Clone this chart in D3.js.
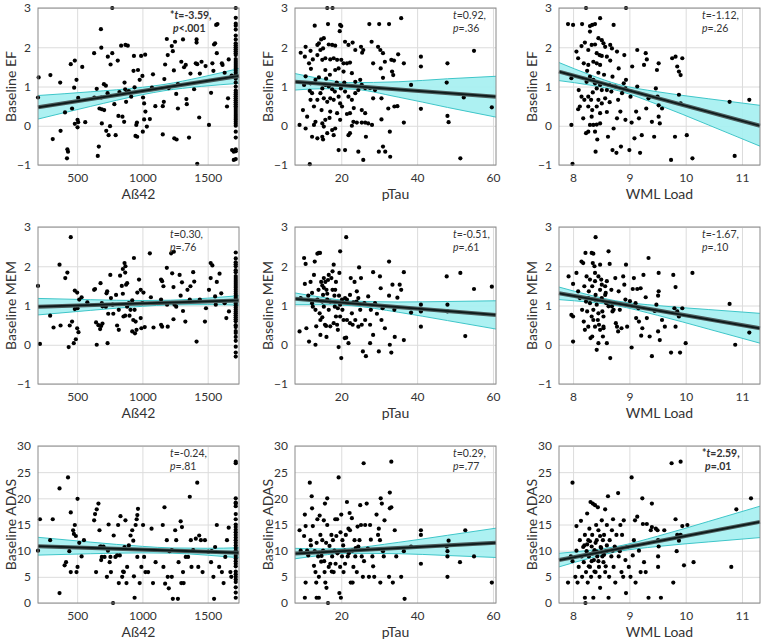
<!DOCTYPE html>
<html>
<head>
<meta charset="utf-8">
<script src="https://cdn.jsdelivr.net/npm/d3@7"></script>
<style>
body { margin: 0; background: #fff; }
text { font-family: Lato, "DejaVu Sans", sans-serif; fill: #333; }
</style>
</head>
<body>
<svg id="chart" width="766" height="641"></svg>
<script>
// ---- data ----
var xLabels = ["A\u00df42", "pTau", "WML Load"];
var yLabels = ["Baseline EF", "Baseline MEM", "Baseline ADAS"];
var xDomains = [[200, 1740], [7.8, 60.8], [7.75, 11.32]];
var yDomains = [[-1, 3], [-1, 3], [0, 30]];
var xTicks = [[500, 1000, 1500], [20, 40, 60], [8, 9, 10, 11]];
var yTicks = [[-1, 0, 1, 2, 3], [-1, 0, 1, 2, 3], [0, 5, 10, 15, 20, 25, 30]];

// AB42 values above the assay limit all sit at the cap
var ab42Cap = 1715;
var efStack = [3.0,2.75,2.6,2.55,2.45,2.3,2.2,2.1,2.05,2.0,1.95,1.9,1.85,1.8,1.7,1.65,1.6,1.55,1.5,1.45,1.4,1.35,1.3,1.2,1.1,1.0,0.9,0.85,0.8,0.75,0.7,0.65,0.6,0.55,0.5,0.45,0.4,0.35,0.3,0.25,0.2,0.15,0.1,0.05,0.0,-0.15,-0.3,-0.6,-0.65,-0.85];
var memStack = [2.35,2.2,2.1,2.05,2.0,1.9,1.85,1.75,1.7,1.65,1.6,1.55,1.5,1.45,1.4,1.35,1.3,1.25,1.2,1.15,1.1,1.05,1.0,0.95,0.9,0.85,0.8,0.75,0.7,0.65,0.6,0.5,0.45,0.35,0.3,0.2,0.1,-0.05,-0.2,-0.3];
var adasStack = [27,26.7,20,19.2,19,18.5,17,16,15,14.5,14,13.5,13,12.5,12,11.5,11,10.5,10,9.5,9,8.5,8,7.5,7,6,5.5,5,4.5,4,3,2,1];

var efAb42 = [[205,1.23],[200,0.72],[295,1.29],[313,-0.34],[370,1.1],[373,-0.13],[407,0.34],[425,-0.6],[430,-0.66],[422,-0.83],[451,1.57],[482,1.66],[461,0.44],[477,0.97],[495,1.17],[482,0.05],[503,0.15],[508,0.09],[508,0.71],[503,-0.04],[539,1.5],[562,0.09],[630,1.85],[650,0.94],[632,0.72],[658,-0.77],[666,-0.53],[682,2.46],[685,1.99],[671,0.44],[689,0.42],[685,0.72],[689,0.06],[705,1.06],[720,1.02],[707,0.4],[723,-0.13],[741,-0.24],[735,1.76],[769,1.85],[752,-0.01],[733,0.83],[769,3.0],[756,1.56],[785,0.55],[795,-0.24],[811,1.66],[816,0.25],[847,0.23],[824,0.86],[837,2.04],[870,2.06],[888,2.04],[863,1.1],[860,0.1],[868,0.93],[878,0.84],[896,0.88],[875,0.61],[914,0.74],[935,1.78],[932,1.4],[940,0.98],[953,0.02],[958,0.08],[947,-0.26],[960,-0.28],[990,1.78],[1021,1.81],[966,1.42],[979,1.17],[1000,1.27],[1005,0.72],[1013,0.57],[1023,0.36],[1013,0.16],[1034,-0.02],[1003,-0.15],[1057,0.17],[1073,0.97],[1081,1.31],[1099,0.5],[1156,-0.22],[1156,0.5],[1164,0.61],[1168,1.19],[1174,1.56],[1187,2.21],[1194,1.8],[1202,0.96],[1225,2.03],[1241,1.41],[1233,1.9],[1250,2.14],[1244,-0.32],[1262,-0.35],[1259,0.81],[1272,0.44],[1272,1.06],[1298,1.63],[1311,2.2],[1319,1.49],[1332,1.55],[1337,0.68],[1340,0.55],[1357,-0.3],[1368,1.33],[1396,0.93],[1409,1.59],[1415,2.2],[1415,2.12],[1420,1.57],[1435,0.21],[1440,1.33],[1453,1.63],[1484,1.52],[1510,0.02],[1526,0.84],[1536,1.59],[1544,1.4],[1549,2.07],[1557,2.1],[1565,2.57],[1575,2.59],[1570,1.85],[1609,1.59],[1614,1.55],[1630,1.35],[1648,0.49],[1656,0.7],[1661,1.69],[1684,1.28],[1687,-0.62],[1700,-0.66],[1700,-0.87],[1420,-0.97]];

var efPtau = [[16.3,3.0],[17.7,3.0],[13.0,2.55],[16.5,2.59],[19.7,2.57],[20,2.54],[19.6,2.41],[9.3,1.86],[10.6,2.01],[10.4,1.76],[11.5,1.59],[12.5,1.69],[11.9,1.91],[13.7,2.06],[14.1,2.1],[14.7,2.2],[15.4,2.23],[13.7,1.8],[14.5,1.93],[15.2,1.97],[16.7,2.07],[17.6,2.06],[18.4,2.04],[15.0,1.68],[15.8,1.72],[17.1,1.69],[18.0,1.72],[18.9,1.68],[20,1.68],[20.6,1.59],[21.5,1.59],[22.3,1.61],[21.0,2.14],[21.9,2.06],[23.0,2.12],[23.7,1.93],[25.2,2.01],[25.8,1.93],[25.5,1.86],[28.0,2.14],[29.7,2.01],[30.3,1.93],[31.0,1.85],[27.4,2.59],[30.0,2.59],[32.6,2.59],[35.8,2.74],[28.4,1.59],[30.4,1.46],[31.5,1.63],[33.2,1.68],[33.9,1.66],[33.4,1.38],[33.7,1.29],[31.0,1.22],[35.0,1.82],[36.5,1.59],[38.4,1.04],[41.0,1.76],[41.0,1.51],[48.0,1.59],[47.8,1.1],[55.0,1.91],[52.3,0.72],[59.7,0.47],[41.0,0.43],[48.0,0.25],[48.3,0.09],[51.4,-0.83],[36.5,0.08],[32.4,0.44],[34.0,0.49],[34.8,0.5],[32.8,-0.15],[31.0,-0.53],[31.6,-0.66],[29.9,-0.66],[32.9,-0.79],[30.6,0.16],[28.1,0.02],[26.5,-0.28],[25.8,-0.87],[24.5,-0.66],[21.0,-0.62],[19.3,-0.62],[11.7,-0.98],[9.0,0.02],[10.6,-0.07],[9.9,0.40],[11.0,0.23],[11.7,0.89],[12.3,-0.28],[13.7,-0.32],[12.8,0.02],[13.2,0.1],[15.0,0.06],[15.4,-0.02],[15.8,0.15],[15.2,-0.35],[15.0,-0.28],[16.3,-0.19],[18.0,-0.24],[17.6,-0.11],[17.1,0.36],[18.9,0.32],[18.4,-0.07],[19.7,0.15],[21.9,-0.24],[22.3,-0.19],[22.8,0.0],[23.2,0.1],[24.1,0.08],[25.4,0.08],[26.3,0.08],[27.1,0.06],[11.9,1.08],[13.2,1.17],[14.1,1.23],[10.2,1.04],[15.8,1.04],[16.7,1.0],[17.6,0.93],[18.3,0.87],[15.0,0.95],[14.5,0.83],[15.4,0.7],[16.3,0.61],[17.1,0.7],[18.0,0.66],[19.3,0.74],[19.7,0.57],[20.2,0.49],[21.0,0.87],[21.9,0.74],[22.8,0.66],[23.7,0.83],[24.5,0.91],[25.4,1.04],[26.3,0.96],[27.6,0.96],[28.9,0.91],[23.7,1.12],[25.0,1.17],[22.8,1.34],[18.4,1.42],[19.3,1.46],[20.6,1.38],[15.8,1.42],[25.4,0.4],[26.3,0.32],[28.4,0.7],[30.6,0.7],[12.8,0.49],[13.7,0.66],[11.9,0.66],[12.3,0.83],[22.3,0.32],[10.6,1.26],[16.0,1.2],[17.0,1.3],[18.8,1.1],[19.9,0.95],[14.8,0.4],[16.9,0.2],[20.8,1.1],[21.5,0.3],[23.3,0.45],[12.0,1.45]];

var efWml = [[7.91,2.59],[8.0,2.57],[8.23,3.0],[8.94,3.0],[8.16,2.59],[8.30,2.54],[8.34,2.57],[8.39,2.59],[8.30,2.4],[8.48,2.74],[8.72,2.57],[8.06,1.89],[8.15,2.03],[8.21,2.12],[8.19,1.59],[8.09,1.72],[8.27,1.93],[8.33,2.06],[8.39,2.07],[8.45,2.23],[8.51,2.18],[8.54,2.1],[8.42,1.85],[8.47,1.8],[8.51,1.78],[8.57,2.01],[8.66,2.06],[8.69,1.97],[8.60,1.76],[8.66,1.66],[8.36,1.63],[8.42,1.59],[8.48,1.55],[8.27,1.55],[8.78,1.89],[8.91,1.8],[8.81,1.46],[9.14,1.93],[9.29,1.85],[9.31,1.69],[9.05,1.51],[9.26,1.55],[9.52,1.59],[9.49,1.42],[9.76,1.72],[9.82,1.76],[9.94,1.72],[9.88,1.38],[9.91,1.29],[9.85,1.51],[7.97,1.21],[8.10,0.91],[8.15,0.74],[8.2,0.66],[8.12,0.49],[8.09,0.42],[8.24,1.12],[8.30,1.25],[8.36,1.17],[8.39,1.08],[8.42,0.95],[8.48,1.04],[8.51,0.91],[8.60,0.91],[8.64,1.04],[8.68,0.87],[8.27,0.74],[8.32,0.66],[8.45,0.66],[8.51,0.57],[8.57,0.7],[8.27,0.49],[8.34,0.40],[8.42,0.49],[8.48,0.32],[8.18,0.19],[8.33,0.23],[8.30,0.02],[8.36,0.02],[8.42,0.03],[8.48,0.06],[8.23,-0.19],[8.27,-0.15],[8.39,-0.15],[8.43,-0.35],[8.40,-0.66],[8.70,-0.62],[8.77,-0.69],[8.85,-0.53],[8.62,-0.28],[8.72,-0.07],[8.78,0.19],[8.84,0.36],[8.80,0.66],[8.87,0.83],[8.93,0.95],[8.90,1.08],[8.94,1.17],[8.93,0.15],[9.02,0.74],[9.04,0.08],[9.00,-0.62],[9.09,-0.32],[9.12,0.36],[9.14,1.0],[9.17,0.19],[9.19,-0.69],[9.22,-0.24],[9.30,0.44],[9.34,0.7],[9.40,0.1],[9.44,-0.28],[9.47,0.95],[9.50,0.74],[9.52,0.23],[9.54,0.06],[9.58,0.44],[9.52,0.52],[9.74,-0.87],[9.81,-0.28],[9.88,0.79],[9.91,0.57],[10.02,-0.24],[10.12,-0.83],[10.78,0.61],[11.13,0.66],[10.87,-0.77],[7.97,0.02],[7.99,-0.97],[8.55,1.3],[8.7,1.25],[8.6,0.35],[8.35,0.85],[8.25,1.4],[8.45,1.35],[8.75,1.0],[8.65,0.6]];

var memAb42 = [[200,1.5],[215,0.02],[293,0.74],[319,0.44],[373,0.49],[365,2.04],[409,1.7],[425,1.84],[451,2.74],[435,-0.06],[443,0.49],[461,0.59],[482,1.38],[500,1.33],[482,0.91],[503,0.93],[474,0.04],[490,0.14],[500,0.42],[510,0.32],[516,1.15],[534,1.21],[578,1.08],[630,1.4],[637,1.42],[645,0.57],[650,0.0],[663,0.5],[676,0.4],[684,0.48],[679,1.57],[689,1.06],[694,0.98],[694,0.54],[720,0.97],[725,1.31],[730,1.36],[733,0.04],[738,0.79],[754,1.78],[759,1.19],[772,1.02],[777,0.79],[798,1.27],[806,0.49],[819,0.38],[819,0.89],[829,1.76],[842,1.5],[850,1.3],[850,1.93],[863,2.08],[870,2.0],[868,1.84],[875,1.53],[883,1.57],[855,0.72],[868,0.74],[883,0.97],[896,1.06],[901,0.74],[909,0.89],[922,1.13],[935,2.21],[940,0.89],[930,0.63],[948,0.59],[922,0.34],[943,0.29],[955,0.38],[961,1.33],[974,1.66],[987,1.4],[1000,1.06],[987,0.68],[992,0.42],[1018,0.45],[1008,1.33],[1057,2.33],[1085,0.44],[1065,1.21],[1143,1.66],[1151,1.62],[1143,1.15],[1143,0.51],[1151,0.46],[1161,1.49],[1187,1.96],[1189,1.02],[1194,0.46],[1220,2.33],[1241,2.37],[1228,1.82],[1238,1.47],[1246,1.02],[1238,0.65],[1259,0.97],[1285,1.78],[1293,1.25],[1303,1.59],[1311,0.86],[1329,0.59],[1345,1.4],[1363,1.15],[1368,1.49],[1389,1.85],[1397,1.61],[1415,0.08],[1440,1.15],[1479,0.59],[1487,0.93],[1510,1.4],[1523,2.08],[1536,2.02],[1523,1.7],[1557,1.23],[1562,1.02],[1570,1.6],[1591,1.81],[1604,1.31],[1630,1.06],[1643,0.68],[1663,0.85]];

var memPtau = [[9.0,0.34],[9.3,1.19],[10.2,2.21],[10.6,2.06],[10.4,1.55],[10.8,0.42],[11.3,1.25],[11.5,0.08],[11.9,1.6],[12.3,1.06],[12.5,0.97],[12.8,1.78],[13.0,2.12],[13.7,2.32],[14.1,2.34],[14.4,2.34],[13.2,0.0],[13.4,0.47],[13.7,1.15],[14.0,1.4],[14.3,0.8],[14.5,0.63],[14.7,1.6],[15.0,1.51],[15.4,1.45],[15.2,1.27],[15.4,0.97],[15.7,0.51],[15.8,1.6],[16.1,1.4],[16.5,1.65],[16.3,1.15],[16.7,0.89],[17.1,1.1],[17.4,1.7],[17.7,1.87],[18.0,2.04],[18.2,1.25],[18.4,1.4],[18.6,0.72],[18.9,0.51],[19.1,0.38],[19.3,-0.06],[20.0,-0.34],[19.7,2.38],[19.5,1.83],[20.2,1.15],[20.3,0.89],[20.6,0.63],[20.9,0.17],[21.3,0.18],[21.3,2.74],[21.9,0.04],[22.3,1.27],[22.5,1.7],[22.8,0.8],[23.0,0.51],[23.5,1.6],[24.1,1.36],[24.5,1.19],[24.7,1.97],[25.0,0.89],[25.2,1.7],[25.4,0.51],[25.7,-0.17],[26.5,-0.29],[26.1,1.06],[26.3,0.63],[27.1,1.23],[27.6,0.04],[27.8,0.89],[28.4,1.85],[28.4,0.25],[28.9,1.06],[29.4,0.79],[29.9,-0.17],[30.2,1.74],[30.4,1.44],[30.6,0.63],[30.9,0.93],[31.5,0.42],[32.6,2.12],[32.6,1.25],[32.8,0.0],[33.2,-0.2],[33.5,1.53],[34.0,0.89],[34.1,0.2],[34.8,1.2],[35.4,1.53],[35.8,1.4],[36.5,1.85],[36.5,0.12],[38.4,0.82],[41.0,1.02],[41.0,0.85],[41.0,0.46],[47.8,1.74],[48.0,1.02],[48.0,0.85],[51.4,1.83],[52.7,0.22],[55.0,1.42],[59.7,1.48],[12.3,1.32],[13.2,0.89],[15.0,0.7],[16.0,0.48],[17.1,0.47],[18.0,0.55],[19.7,0.72],[21.5,0.63],[22.3,0.55],[23.7,0.63],[24.5,0.46],[19.7,1.02],[21.5,1.15],[23.2,1.08],[24.0,1.1],[18.3,0.97],[19.1,0.93],[15.0,1.1],[16.3,1.3],[17.7,1.4],[21.0,1.19],[18.6,1.6],[19.4,1.25],[16.7,1.78],[15.4,1.7],[16.1,0.2],[14.5,0.25],[27.6,0.51]];

var memWml = [[7.92,1.74],[7.97,0.76],[8.0,0.72],[8.0,0.08],[8.0,1.55],[8.06,1.83],[8.09,1.36],[8.12,1.19],[8.15,2.12],[8.18,2.08],[8.22,2.34],[8.16,0.89],[8.19,0.59],[8.20,1.49],[8.23,1.1],[8.25,0.85],[8.27,0.46],[8.28,1.36],[8.30,1.66],[8.33,2.34],[8.36,2.32],[8.31,0.17],[8.34,0.21],[8.35,2.08],[8.38,2.0],[8.39,1.83],[8.39,1.62],[8.34,1.49],[8.40,2.74],[8.40,1.27],[8.42,1.02],[8.42,-0.13],[8.44,0.63],[8.45,0.04],[8.46,0.51],[8.48,1.4],[8.48,2.04],[8.50,1.66],[8.51,1.19],[8.52,0.85],[8.53,0.21],[8.54,0.46],[8.57,1.49],[8.58,1.32],[8.59,1.06],[8.60,0.04],[8.63,2.38],[8.65,2.06],[8.66,-0.34],[8.68,1.4],[8.69,0.98],[8.70,0.85],[8.75,1.7],[8.76,0.55],[8.78,0.46],[8.80,0.34],[8.81,1.36],[8.83,0.89],[8.86,0.42],[8.89,1.74],[8.91,1.53],[8.93,1.15],[8.94,2.04],[8.96,0.46],[9.01,1.11],[9.04,-0.07],[9.06,1.42],[9.08,1.7],[9.11,1.06],[9.12,0.68],[9.14,1.42],[9.16,0.93],[9.17,0.59],[9.20,1.44],[9.23,0.42],[9.21,0.23],[9.25,1.78],[9.29,1.21],[9.31,0.68],[9.34,2.21],[9.36,0.21],[9.40,-0.29],[9.45,0.86],[9.48,1.02],[9.51,1.25],[9.52,1.83],[9.52,1.36],[9.51,0.34],[9.54,0.12],[9.58,0.63],[9.63,0.46],[9.74,-0.2],[9.78,1.78],[9.82,1.47],[9.80,0.93],[9.82,0.46],[9.85,0.85],[9.88,0.72],[9.90,-0.2],[9.94,0.93],[10.0,0.04],[10.12,1.83],[10.78,1.04],[11.13,0.31],[10.88,0.0],[8.21,0.38],[8.33,0.72],[8.36,0.89],[8.45,0.8],[8.54,0.72],[8.3,1.06],[8.39,1.15],[8.24,1.74],[8.45,1.74],[8.27,1.19],[8.51,1.53],[8.6,1.62],[8.36,0.63],[8.57,1.27],[8.63,0.98],[8.72,0.89],[8.54,0.42],[8.48,0.38],[8.39,0.46]];

var adasAb42 = [[200,10.0],[215,16.0],[293,12.0],[313,16.0],[365,21.9],[365,1.9],[430,24.0],[404,7.2],[415,7.8],[440,9.9],[451,17.3],[451,5.9],[469,13.9],[475,13.2],[482,14.9],[490,12.8],[495,5.9],[503,19.9],[503,6.9],[516,11.5],[534,8.9],[552,12.0],[630,15.8],[637,17.0],[645,5.9],[650,17.9],[663,19.0],[671,13.9],[676,10.8],[684,10.8],[684,8.2],[689,8.8],[702,10.8],[710,8.8],[728,5.0],[736,10.0],[741,15.0],[749,7.8],[755,8.8],[759,5.9],[775,0.0],[780,12.9],[793,8.8],[806,9.1],[814,14.9],[819,3.8],[827,9.1],[832,16.6],[845,5.0],[852,6.0],[858,5.9],[863,10.7],[870,15.8],[878,3.8],[883,6.9],[896,11.0],[909,12.9],[922,13.9],[930,11.9],[935,5.1],[940,1.0],[948,14.9],[956,16.0],[961,16.8],[966,18.0],[961,8.8],[979,3.8],[992,6.9],[1005,14.9],[1013,8.8],[1023,5.9],[1044,5.9],[1070,14.2],[1081,3.8],[1101,7.8],[1156,14.9],[1169,18.3],[1161,6.9],[1174,3.7],[1187,12.0],[1194,5.0],[1202,2.8],[1207,9.9],[1225,10.1],[1225,5.0],[1233,0.8],[1272,0.8],[1251,13.9],[1259,12.0],[1277,7.8],[1293,15.6],[1303,14.5],[1298,3.8],[1316,3.8],[1311,5.9],[1332,8.8],[1350,8.8],[1363,20.3],[1371,12.0],[1376,6.9],[1389,10.1],[1409,12.3],[1420,23.0],[1428,6.9],[1435,12.9],[1448,12.0],[1461,5.9],[1479,12.0],[1505,9.8],[1526,7.8],[1531,9.9],[1544,5.0],[1549,0.8],[1557,10.7],[1570,14.9],[1588,6.9],[1609,5.9],[1622,3.8],[1635,8.8],[1648,12.0],[1661,14.4],[1674,5.9],[1681,5.0]];

var adasPtau = [[9.0,13.9],[9.3,10.0],[10.2,12.8],[10.4,16.9],[10.6,14.7],[10.6,3.9],[10.4,1.0],[11.0,10.0],[11.3,9.1],[11.7,23.0],[11.9,12.0],[12.2,20.4],[12.3,18.1],[12.5,14.7],[12.8,7.1],[13.0,9.9],[13.2,5.9],[13.4,3.9],[13.5,1.0],[14.1,1.0],[13.7,16.0],[13.9,8.9],[14.1,5.0],[14.3,16.7],[14.5,13.0],[14.7,7.9],[15.0,12.0],[15.2,10.0],[15.4,15.8],[15.6,5.9],[15.8,3.9],[15.7,19.0],[16.1,2.9],[16.3,20.0],[16.3,14.9],[16.5,0.0],[16.7,6.9],[16.9,10.9],[17.1,7.5],[17.4,13.0],[17.6,8.9],[17.8,12.0],[18.0,5.9],[18.2,10.0],[18.4,16.0],[18.7,12.8],[18.9,16.0],[19.3,24.0],[19.5,1.9],[19.7,6.9],[19.9,1.0],[20.0,16.9],[20.2,8.9],[20.3,12.0],[20.6,5.9],[20.9,10.0],[21.2,13.0],[21.5,19.3],[21.7,8.9],[21.9,14.2],[22.2,17.2],[22.3,13.9],[22.5,3.9],[23.0,3.9],[22.8,16.2],[22.9,10.0],[23.2,6.9],[23.5,12.0],[23.7,8.9],[24.1,5.9],[24.3,14.6],[24.5,10.8],[25.0,18.7],[25.2,14.9],[25.4,8.9],[25.7,5.0],[25.9,26.7],[26.3,14.9],[26.7,19.0],[27.0,10.4],[27.3,5.0],[27.6,14.9],[27.8,12.1],[28.2,8.9],[28.4,7.0],[28.7,5.0],[29.3,16.9],[29.7,13.0],[29.9,14.2],[30.2,12.0],[30.4,20.0],[30.3,3.9],[30.7,19.0],[31.0,9.9],[31.2,8.9],[31.4,15.8],[32.8,18.1],[33.2,18.3],[32.6,5.0],[32.8,21.1],[33.2,27.0],[33.6,3.9],[34.1,13.9],[34.5,8.9],[35.8,5.0],[36.5,9.9],[36.7,0.8],[38.4,10.8],[41.0,13.9],[41.0,13.0],[41.0,7.5],[47.8,10.8],[48.0,9.9],[48.0,8.9],[48.3,11.9],[48.0,5.0],[51.3,7.8],[52.7,13.9],[55.0,8.9],[59.7,3.9],[12.0,11.0],[14.8,9.0],[16.0,11.5],[17.5,6.0],[19.0,9.5],[20.5,11.0],[21.0,7.5],[22.0,9.5],[23.8,10.5],[18.5,7.5],[15.5,8.0],[13.5,11.5],[24.8,12.0],[26.0,8.0],[19.8,13.5]];

var adasWml = [[7.91,3.9],[7.96,8.9],[7.99,23.0],[7.99,8.0],[8.04,5.0],[8.06,14.7],[8.06,10.0],[8.08,3.9],[8.10,6.9],[8.12,12.0],[8.14,15.7],[8.15,8.9],[8.16,5.0],[8.18,10.7],[8.19,7.8],[8.21,13.0],[8.21,1.0],[8.22,0.0],[8.23,5.9],[8.24,9.9],[8.25,17.1],[8.26,3.9],[8.27,12.0],[8.28,8.9],[8.29,14.2],[8.30,6.9],[8.31,19.3],[8.32,5.0],[8.33,10.8],[8.34,13.0],[8.35,19.0],[8.36,1.0],[8.37,8.2],[8.38,10.1],[8.39,18.7],[8.40,5.9],[8.41,14.9],[8.42,12.0],[8.43,8.9],[8.44,18.3],[8.45,13.9],[8.46,6.9],[8.47,5.0],[8.48,2.9],[8.49,10.7],[8.51,15.8],[8.52,8.9],[8.53,12.0],[8.54,7.8],[8.55,13.0],[8.57,17.9],[8.57,5.9],[8.59,9.9],[8.60,14.9],[8.62,20.4],[8.63,1.0],[8.64,5.0],[8.65,12.0],[8.68,8.9],[8.69,13.9],[8.71,16.0],[8.72,6.9],[8.74,10.8],[8.75,3.9],[8.77,13.0],[8.80,21.0],[8.81,8.9],[8.83,9.9],[8.84,14.9],[8.86,5.9],[8.87,13.0],[8.89,5.0],[8.90,15.8],[8.93,8.2],[8.94,1.9],[8.96,10.7],[8.99,6.9],[9.02,5.0],[9.04,24.0],[9.06,9.1],[9.08,12.0],[9.10,15.8],[9.11,3.9],[9.14,16.5],[9.17,10.0],[9.20,5.9],[9.23,20.0],[9.24,15.1],[9.26,7.8],[9.29,5.9],[9.31,15.1],[9.34,1.0],[9.38,13.9],[9.40,19.0],[9.40,14.5],[9.47,14.2],[9.50,13.9],[9.51,12.0],[9.52,10.8],[9.51,8.9],[9.51,6.9],[9.56,1.0],[9.62,13.9],[9.75,26.7],[9.91,27.0],[9.78,3.9],[9.82,16.0],[9.84,9.9],[9.85,13.0],[9.88,11.9],[9.91,13.0],[9.94,14.7],[9.97,7.2],[10.03,14.9],[10.14,7.8],[10.81,6.9],[10.90,17.9],[11.16,20.0],[8.2,11.0],[8.28,7.0],[8.35,9.5],[8.4,11.5],[8.45,8.0],[8.5,10.5],[8.3,11.8],[8.38,6.0],[8.55,9.2],[8.6,11.0],[8.42,9.8],[8.33,8.0],[8.48,12.8],[8.25,11.2],[8.58,7.0],[8.7,10.0]];

// fitted regression line end points [x0, y0, x1, y1]
var fitEnds = [
  [200, 0.47, 1740, 1.27], [7.8, 1.12, 60.8, 0.74], [7.75, 1.38, 11.32, 0.0],
  [200, 0.97, 1740, 1.13], [7.8, 1.17, 60.8, 0.76], [7.75, 1.31, 11.32, 0.42],
  [200, 10.85, 1740, 9.6], [7.8, 9.45, 60.8, 11.5], [7.75, 8.2, 11.32, 15.5]
];
// confidence band half widths [x, half]
var bandHalf = [
  [[200,.30],[600,.187],[1000,.094],[1165,.08],[1450,.117],[1740,.19]],
  [[7.8,.21],[15,.125],[22,.08],[35,.195],[48,.365],[60.8,.52]],
  [[7.75,.23],[8.3,.131],[8.81,.08],[9.5,.162],[10.4,.333],[11.32,.52]],
  [[200,.21],[600,.136],[1000,.074],[1215,.06],[1500,.082],[1740,.12]],
  [[7.8,.15],[15,.093],[22.6,.06],[35,.13],[48,.243],[60.8,.36]],
  [[7.75,.16],[8.3,.09],[8.76,.06],[9.5,.124],[10.4,.248],[11.32,.38]],
  [[200,1.7],[600,1.11],[1000,.62],[1228,.5],[1500,.66],[1740,.95]],
  [[7.8,1.0],[15,.6],[20.7,.45],[35,1.08],[48,1.93],[60.8,2.8]],
  [[7.75,1.3],[8.3,.75],[8.78,.5],[9.5,.98],[10.4,1.95],[11.32,3.0]]
];
var statT = ["-3.59", "0.92", "-1.12", "0.30", "-0.51", "-1.67", "-0.24", "0.29", "2.59"];
var statP = ["<.001", "=.36", "=.26", "=.76", "=.61", "=.10", "=.81", "=.77", "=.01"];
var statSig = [true, false, false, false, false, false, false, false, true];

// ---- layout ----
var colLeft = [38, 295, 559];
var rowTop = [8, 227, 446];
var plotW = 201, plotH = 157;
var statOffset = [132, 158, 143];

function withCap(pts, stack) {
  return pts.concat(stack.map(function(v) { return [ab42Cap, v]; }));
}

var panelPoints = [
  withCap(efAb42, efStack), efPtau, efWml,
  withCap(memAb42, memStack), memPtau, memWml,
  withCap(adasAb42, adasStack), adasPtau, adasWml
];

var svg = d3.select("#chart");

function drawPanel(i) {
  var row = Math.floor(i / 3), col = i % 3;
  var g = svg.append("g").attr("transform", "translate(" + colLeft[col] + "," + rowTop[row] + ")");

  var x = d3.scaleLinear().domain(xDomains[col]).range([0, plotW]);
  var y = d3.scaleLinear().domain(yDomains[row]).range([plotH, 0]);
  var f = fitEnds[i];
  var fit = d3.scaleLinear().domain([f[0], f[2]]).range([f[1], f[3]]);

  g.append("rect").attr("width", plotW).attr("height", plotH).attr("fill", "#fff");

  // grid + tick labels
  var xa = g.append("g").attr("transform", "translate(0," + plotH + ")")
    .call(d3.axisBottom(x).tickValues(xTicks[col]).tickSize(-plotH).tickPadding(8).tickFormat(d3.format("d")));
  var ya = g.append("g")
    .call(d3.axisLeft(y).tickValues(yTicks[row]).tickSize(-plotW).tickPadding(7).tickFormat(d3.format("d")));
  [xa, ya].forEach(function(a) {
    a.select(".domain").remove();
    a.selectAll("line").attr("stroke", "#dcdcdc").attr("stroke-width", 1);
    a.selectAll("text").attr("font-size", "12px").attr("fill", "#333")
      .style("font-family", "Lato, 'DejaVu Sans', sans-serif");
  });

  // confidence band
  var band = bandHalf[i];
  var area = d3.area().curve(d3.curveMonotoneX)
    .x(function(d) { return x(d[0]); })
    .y0(function(d) { return y(fit(d[0]) - d[1]); })
    .y1(function(d) { return y(fit(d[0]) + d[1]); });
  var edge = function(sign) {
    return d3.line().curve(d3.curveMonotoneX)
      .x(function(d) { return x(d[0]); })
      .y(function(d) { return y(fit(d[0]) + sign * d[1]); });
  };
  g.append("path").datum(band).attr("d", area).attr("fill", "#a4eff1").attr("fill-opacity", 0.9);
  g.append("path").datum(band).attr("d", edge(1)).attr("fill", "none").attr("stroke", "#3fc6c9").attr("stroke-width", 1);
  g.append("path").datum(band).attr("d", edge(-1)).attr("fill", "none").attr("stroke", "#3fc6c9").attr("stroke-width", 1);

  // points
  g.append("g").selectAll("circle").data(panelPoints[i]).enter().append("circle")
    .attr("cx", function(d) { return x(d[0]); })
    .attr("cy", function(d) { return y(d[1]); })
    .attr("r", 2.1)
    .attr("fill", "#000");

  // regression line
  var ends = [[f[0], f[1]], [f[2], f[3]]];
  var ln = d3.line().x(function(d) { return x(d[0]); }).y(function(d) { return y(d[1]); });
  g.append("path").datum(ends).attr("d", ln).attr("stroke", "#4a5a5a").attr("stroke-width", 4).attr("fill", "none");
  g.append("path").datum(ends).attr("d", ln).attr("stroke", "#0d1a1a").attr("stroke-width", 1.8).attr("fill", "none");

  // frame
  g.append("rect").attr("width", plotW).attr("height", plotH)
    .attr("fill", "none").attr("stroke", "#8a8a8a").attr("stroke-width", 1);

  // stats
  var sx = statOffset[col];
  var weight = statSig[i] ? "bold" : "normal";
  var t1 = g.append("text").attr("x", sx).attr("y", 11).attr("font-size", "10.5px").attr("font-weight", weight);
  if (statSig[i]) t1.append("tspan").text("*");
  t1.append("tspan").attr("font-style", "italic").text("t");
  t1.append("tspan").text("=" + statT[i] + ",");
  var t2 = g.append("text").attr("x", sx + (statSig[i] ? 3 : 0)).attr("y", 24).attr("font-size", "10.5px").attr("font-weight", weight);
  t2.append("tspan").attr("font-style", "italic").text("p");
  t2.append("tspan").text(statP[i]);

  // axis titles
  g.append("text").attr("x", plotW / 2).attr("y", plotH + 34)
    .attr("text-anchor", "middle").attr("font-size", "14px").text(xLabels[col]);
  g.append("text").attr("transform", "translate(-22," + (plotH / 2) + ") rotate(-90)")
    .attr("text-anchor", "middle").attr("font-size", "14px").text(yLabels[row]);
}

for (var i = 0; i < 9; i++) {
  drawPanel(i);
}
</script>
</body>
</html>
